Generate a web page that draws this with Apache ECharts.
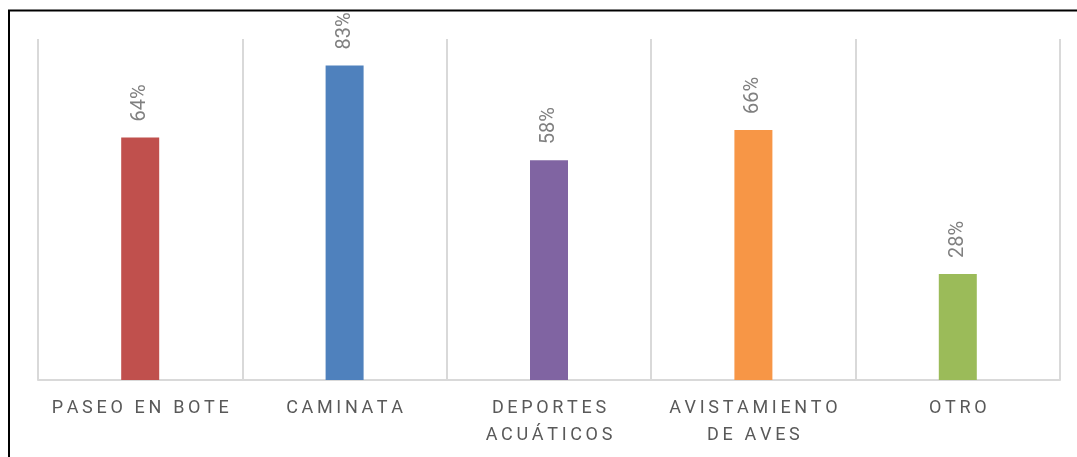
<!DOCTYPE html>
<html>
<head>
<meta charset="utf-8">
<script src="https://cdn.jsdelivr.net/npm/echarts@6/dist/echarts.min.js"></script>
<style>
html,body{margin:0;padding:0;background:#fff;}
#chart{width:1077px;height:457px;}
</style>
</head>
<body>
<div id="chart"></div>
<script>
const categories = ['PASEO EN BOTE', 'CAMINATA', 'DEPORTES\nACUÁTICOS', 'AVISTAMIENTO\nDE AVES', 'OTRO'];
const values = [64, 83, 58, 66, 28];
const barColors = ['#C0504D', '#4F81BD', '#8064A2', '#F79646', '#9BBB59'];

function spaced(s) {
  return s.split('\n').map(line => Array.from(line).join('\u2009')).join('\n');
}

const chart = echarts.init(document.getElementById('chart'));
chart.setOption({
  animation: false,
  backgroundColor: '#fff',
  graphic: [{
    type: 'rect',
    shape: { x: 9, y: 10.5, width: 1300, height: 700 },
    style: { fill: 'none', stroke: '#000', lineWidth: 2 },
    silent: true
  }],
  grid: { left: 38, right: 17, top: 39, bottom: 77 },
  xAxis: {
    type: 'category',
    data: categories,
    axisTick: { show: false },
    axisLine: { lineStyle: { color: '#d9d9d9', width: 2 } },
    splitLine: { show: true, interval: 0, lineStyle: { color: '#d9d9d9', width: 2 } },
    axisLabel: {
      interval: 0,
      margin: 15,
      color: '#595959',
      fontFamily: 'Roboto, "Open Sans", sans-serif',
      fontSize: 18,
      lineHeight: 27,
      formatter: v => spaced(v)
    }
  },
  yAxis: {
    type: 'value',
    min: 0,
    max: 90,
    show: false,
    splitLine: { show: false }
  },
  series: [{
    type: 'bar',
    data: values.map((v, i) => ({ value: v, itemStyle: { color: barColors[i] } })),
    barWidth: 38,
    label: {
      show: true,
      position: 'top',
      rotate: 90,
      align: 'left',
      verticalAlign: 'middle',
      distance: 16,
      color: '#808080',
      fontFamily: 'Roboto, "Open Sans", sans-serif',
      fontSize: 20,
      formatter: p => p.value + '%'
    }
  }]
});
</script>
</body>
</html>
